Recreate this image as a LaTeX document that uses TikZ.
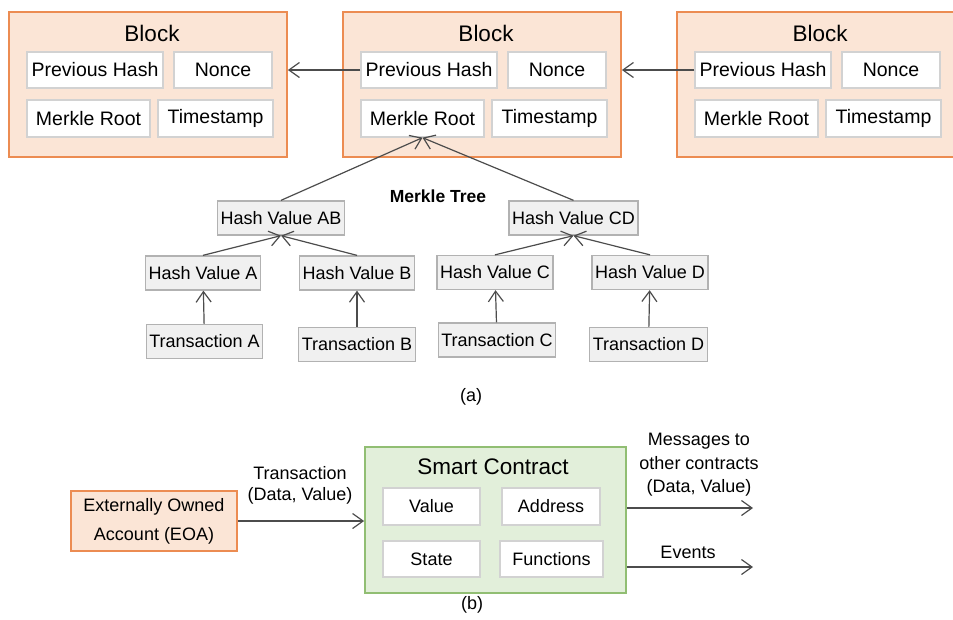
\documentclass[tikz,border=0pt]{standalone}
\usepackage{fontspec}
\setmainfont{Liberation Sans}
\usetikzlibrary{arrows.meta}
\definecolor{peach}{RGB}{251,229,214}
\definecolor{orangeline}{RGB}{236,140,82}
\definecolor{mint}{RGB}{226,239,218}
\definecolor{greenline}{RGB}{145,190,115}

\begin{document}
\begin{tikzpicture}[x=1pt,y=-1pt,
  blockbox/.style={draw=orangeline, fill=peach, line width=1.8pt},
  cell/.style={draw=gray!35, fill=white, line width=1.3pt, inner sep=0pt, minimum height=36, font=\fontsize{19.5}{22}\selectfont},
  tree/.style={draw=gray!60, fill=gray!12, line width=1.3pt, inner xsep=3, minimum height=34, font=\fontsize{18}{21}\selectfont},
  arr/.style={draw=black!70, line width=1.2pt, -{Straight Barb[length=10.5pt,width=15pt]}},
  lbl/.style={font=\fontsize{18}{21}\selectfont}]
\useasboundingbox (0,0) rectangle (953,619);

\foreach\b/\x in {1/9,2/343,3/677}{
    \node[blockbox, minimum width=278, minimum height=145] (blk\b) at (\x+139,84.5) {};
    \node[font=\fontsize{22.5}{26}\selectfont] (ttl\b) at (\x+143,33) {Block};
    \node[cell, minimum width=136] (ph\b) at (\x+86,70) {Previous Hash};
    \node[cell, minimum width=98] (nonce\b) at (\x+214,70) {Nonce};
    \node[cell, minimum width=123, minimum height=37] (mr\b) at (\x+79.5,118.5) {Merkle Root};
    \node[cell, minimum width=115, minimum height=37] (ts\b) at (\x+206.5,118.5) {Timestamp};
}
\draw[arr] (ph2.west) -- (blk1.east |- ph2.west);
\draw[arr] (ph3.west) -- (blk2.east |- ph3.west);

\node[tree] (hab) at (281,218) {Hash Value AB};
\node[tree] (hcd) at (573.5,218) {Hash Value CD};
\node[tree] (ha) at (203,273) {Hash Value A};
\node[tree] (hb) at (357,273) {Hash Value B};
\node[tree] (hc) at (495,272.5) {Hash Value C};
\node[tree] (hd) at (650,272.5) {Hash Value D};
\node[tree] (ta) at (204.5,341.5) {Transaction A};
\node[tree] (tb) at (357,344.5) {Transaction B};
\node[tree] (tc) at (497,340) {Transaction C};
\node[tree] (td) at (648.5,344.5) {Transaction D};
\node[font=\fontsize{17.5}{21}\selectfont\bfseries] (mtree) at (438,196) {Merkle Tree};

\draw[arr] (hab.north) -- (mr2.south);
\draw[arr] (hcd.north) -- (mr2.south);
\draw[arr] (ha.north) -- (hab.south);
\draw[arr] (hb.north) -- (hab.south);
\draw[arr] (hc.north) -- (hcd.south);
\draw[arr] (hd.north) -- (hcd.south);
\draw[arr] (ta) -- (ha);
\draw[arr] (tb) -- (hb);
\draw[arr] (tc) -- (hc);
\draw[arr] (td) -- (hd);

\node[lbl] (capa) at (471,397) {(a)};

\node[draw=orangeline, fill=peach, line width=1.8pt, minimum width=166, minimum height=60, align=center, font=\fontsize{18}{29}\selectfont] (eoa) at (154,521) {Externally Owned\\Account (EOA)};
\node[draw=greenline, fill=mint, line width=1.8pt, minimum width=261, minimum height=146] (sc) at (495.5,520) {};
\node[font=\fontsize{22.5}{26}\selectfont] (sctitle) at (493,467) {Smart Contract};
\node[cell, minimum width=97, minimum height=37, font=\fontsize{18}{21}\selectfont] (val) at (431.5,506.5) {Value};
\node[cell, minimum width=98, minimum height=37, font=\fontsize{18}{21}\selectfont] (addr) at (551,506.5) {Address};
\node[cell, minimum width=97, font=\fontsize{18}{21}\selectfont] (state) at (431.5,559) {State};
\node[cell, minimum width=103, font=\fontsize{18}{21}\selectfont] (func) at (551.5,559) {Functions};

\node[lbl, align=center] (txlbl) at (300,485.5) {Transaction\\(Data, Value)};
\draw[arr] (eoa.east) -- (sc.west |- eoa.east);

\coordinate (msgend) at (753,508);
\coordinate (evend) at (753,567);
\draw[arr] (sc.east |- msgend) -- (msgend);
\draw[arr] (sc.east |- evend) -- (evend);
\node[lbl, align=center, font=\fontsize{18}{23.5}\selectfont] (msglbl) at (699,465) {Messages to\\other contracts\\(Data, Value)};
\node[lbl] (evlbl) at (688,552) {Events};

\node[lbl] (capb) at (472,605) {(b)};
\end{tikzpicture}
\end{document}
